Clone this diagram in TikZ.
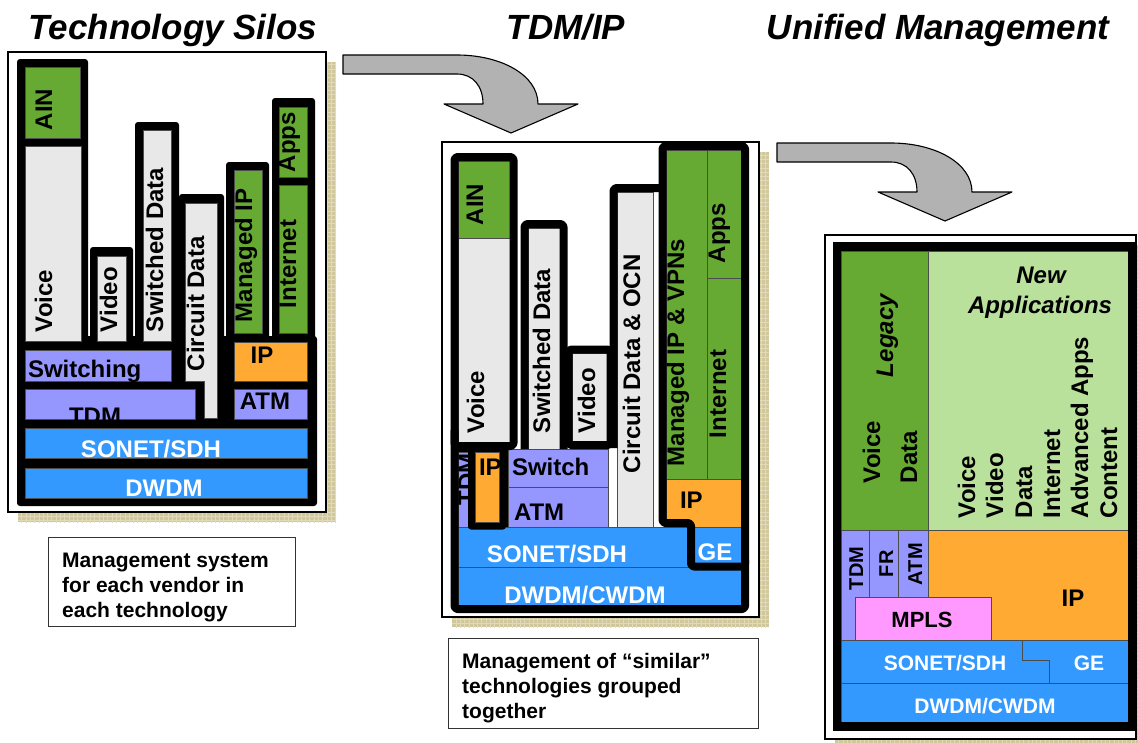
\documentclass[tikz,border=0pt]{standalone}
\usepackage{fontspec}
\setmainfont{Liberation Sans}
\definecolor{cgreen}{RGB}{102,170,51}
\definecolor{clgreen}{RGB}{185,225,155}
\definecolor{cgray}{RGB}{232,232,232}
\definecolor{cpurple}{RGB}{150,150,255}
\definecolor{corange}{RGB}{255,170,51}
\definecolor{cblue}{RGB}{51,153,255}
\definecolor{cpink}{RGB}{255,153,255}
\definecolor{carrow}{RGB}{178,178,178}
\definecolor{cshadow}{RGB}{208,200,156}
\definecolor{cgrid}{RGB}{224,218,184}

% white panel with a textured drop shadow
\newcommand{\panelframe}[4]{%
  \fill[cshadow] (#1+10,#2+10) rectangle (#3+10,#4+10);
  \begin{scope}
    \clip (#1+10,#2+10) rectangle (#3+10,#4+10);
    \draw[cgrid, line width=0.3pt, step=4.3pt] (#1,#2) grid (#3+14,#4+14);
  \end{scope}
  \filldraw[fill=white, draw=black, line width=1.2pt] (#1,#2) rectangle (#3,#4);
}

% curved block arrow, origin at the top-left corner of its shaft
\newcommand{\bendarrow}[2]{%
  \begin{scope}[shift={(#1,#2)}]
    \filldraw[fill=carrow, draw=black, line width=1.1pt, line join=round]
      (0,0) -- (114,0) .. controls (158,0) and (195,20) .. (195,49)
      -- (235,49) -- (168,78) -- (101,49) -- (140,49)
      .. controls (140,31) and (130,19) .. (114,19) -- (0,19) -- cycle;
  \end{scope}
}

\begin{document}
\begin{tikzpicture}[x=1pt,y=-1pt,
  lbl/.style={font=\fontsize{24}{28}\selectfont\bfseries, inner sep=0pt, outer sep=0pt},
  fs/.style={font=\fontsize{#1}{#1}\selectfont\bfseries},
  ital/.style={font=\fontsize{24}{28}\selectfont\bfseries\itshape},
  vlbl/.style={lbl, rotate=90, anchor=base west},
  hlbl/.style={lbl, anchor=base},
  wlbl/.style={lbl, anchor=base west},
  onblue/.style={text=white},
  cell/.style={draw=black!70, line width=0.6pt},
  heavy/.style={draw=black, line width=8pt, rounded corners=3pt, line join=round},
  title/.style={font=\fontsize{35}{40}\selectfont\bfseries\itshape, inner sep=0pt, anchor=base},
  notebox/.style={draw=black!80, line width=0.9pt, anchor=north west, inner sep=0pt},
  notetxt/.style={font=\fontsize{21}{25}\selectfont\bfseries, inner sep=0pt, anchor=base west},
]
\useasboundingbox (0,0) rectangle (1138,742);

% ---------- titles ----------
\node[title] (ttl1) at (173,39) {Technology Silos};
\node[title] (ttl2) at (566,39) {TDM/IP};
\node[title] (ttl3) at (938,39) {Unified Management};

% ================= left panel: technology silos =================
\panelframe{8}{52}{326}{512}
\begin{scope}[rounded corners=3pt]
  \fill[black] (17,59) rectangle (88,345);
  \fill[black] (90,247) rectangle (133,345);
  \fill[black] (135,122) rectangle (179,345);
  \fill[black] (179,194) rectangle (224,420);
  \fill[black] (226,162) rectangle (269,345);
  \fill[black] (272,98) rectangle (315,345);
  \fill[black] (17,336) rectangle (317,506);
\end{scope}
\filldraw[cell, fill=cgreen] (25,67) rectangle (80,138);
\filldraw[cell, fill=cgray] (25,146) rectangle (81,341);
\filldraw[cell, fill=cgray] (97,256) rectangle (126,341);
\filldraw[cell, fill=cgray] (143,130) rectangle (171,341);
\filldraw[cell, fill=cgray] (185,203) -- (217,203) -- (217,418) -- (204,418) -- (204,381) -- (185,381) -- cycle;
\filldraw[cell, fill=cgreen] (234,170) rectangle (262,333);
\filldraw[cell, fill=cgreen] (279,107) rectangle (307,177);
\filldraw[cell, fill=cgreen] (279,185) rectangle (307,333);
\filldraw[cell, fill=corange] (234,342) rectangle (307,381);
\filldraw[cell, fill=cpurple] (234,389) rectangle (307,419);
\filldraw[cell, fill=cpurple] (25,350) rectangle (171,381);
\filldraw[cell, fill=cpurple] (25,389) rectangle (195,419);
\filldraw[cell, fill=cblue] (25,428) rectangle (307,458);
\filldraw[cell, fill=cblue] (25,468) rectangle (307,498);

\node[vlbl] (l-ain) at (52,130) {AIN};
\node[vlbl] (l-voice) at (52,332) {Voice};
\node[vlbl] (l-video) at (117,332) {Video};
\node[vlbl] (l-swd) at (163,332) {Switched Data};
\node[vlbl] (l-cd) at (204,371) {Circuit Data};
\node[vlbl] (l-mip) at (252,322) {Managed IP};
\node[vlbl] (l-inet) at (296,308) {Internet};
\node[vlbl] (l-apps) at (295,172) {Apps};
\begin{scope}
  \clip (25,350) rectangle (171,381);
  \node[wlbl] (l-sw) at (28,377) {Switching};
\end{scope}
\begin{scope}
  \clip (25,389) rectangle (195,419);
  \node[hlbl] (l-tdm) at (95,424) {TDM};
\end{scope}
\node[hlbl] (l-ip) at (262,363) {IP};
\node[hlbl] (l-atm) at (265,409) {ATM};
\node[hlbl, onblue] (l-sonet) at (151,457) {SONET/SDH};
\node[hlbl, onblue] (l-dwdm) at (164,496) {DWDM};

\node[notebox, minimum width=247pt, minimum height=89pt] (note1) at (48,537) {};
\node[notetxt] (note1a) at (62,567) {Management system};
\node[notetxt] (note1b) at (62,592) {for each vendor in};
\node[notetxt] (note1c) at (62,617) {each technology};

% ================= middle panel: TDM/IP =================
\panelframe{442}{142}{759}{617}
\fill[black] (451,440) rectangle (508,527);
\filldraw[cell, fill=cgreen] (458,161) rectangle (510,238);
\filldraw[cell, fill=cgray] (458,238) rectangle (510,443);
\filldraw[cell, fill=cgray] (528,228) rectangle (560,449);
\filldraw[cell, fill=cgray] (572,353) rectangle (607,441);
\filldraw[cell, fill=cgray] (617,192) rectangle (653,527);
\filldraw[cell, fill=cpurple] (458,452) rectangle (468,527);
\filldraw[cell, fill=cpurple] (508,449) rectangle (608,487);
\filldraw[cell, fill=cpurple] (508,487) rectangle (608,527);
\filldraw[cell, fill=cgreen] (666,150) rectangle (707,479);
\filldraw[cell, fill=cgreen] (707,150) rectangle (742,278);
\filldraw[cell, fill=cgreen] (707,278) rectangle (742,479);
\filldraw[cell, fill=corange] (666,479) rectangle (742,527);
\filldraw[cell, fill=cblue] (694,527) rectangle (742,566);
\filldraw[cell, fill=cblue] (458,527) rectangle (691,567);
\filldraw[cell, fill=cblue] (458,567) rectangle (742,605);
\fill[black, rounded corners=3pt] (468,445) rectangle (506,529.5);
\filldraw[cell, fill=corange] (475,452) rectangle (499,522);

\begin{scope}
  \clip (458,452) rectangle (468,527);
  \node[vlbl] (m-tdm) at (475,505) {TDM};
\end{scope}
\begin{scope}
  \clip (475,452) rectangle (499,522);
  \node[wlbl] (m-ip1) at (479,475) {IP};
\end{scope}
\node[vlbl] (m-ain) at (483,225) {AIN};
\node[vlbl] (m-voice) at (484,433) {Voice};
\node[vlbl] (m-swd) at (550,433) {Switched Data};
\node[vlbl] (m-video) at (595,433) {Video};
\node[vlbl] (m-cd) at (640,473) {Circuit Data \& OCN};
\node[vlbl] (m-mip) at (684,466) {Managed IP \& VPNs};
\node[vlbl] (m-apps) at (725,263) {Apps};
\node[vlbl] (m-inet) at (726,438) {Internet};
\node[wlbl] (m-switch) at (512,475) {Switch};
\node[wlbl] (m-atm) at (514,520) {ATM};
\node[wlbl] (m-ip2) at (680,508) {IP};
\node[hlbl, onblue] (m-sonet) at (557,562) {SONET/SDH};
\node[hlbl, onblue] (m-ge) at (715,560) {GE};
\node[hlbl, onblue] (m-dwdm) at (585,603) {DWDM/CWDM};

\draw[heavy] (454.5,157) rectangle (513.5,446);
\draw[heavy] (524.5,449) -- (524.5,224) -- (563.5,224) -- (563.5,449);
\draw[heavy] (568.5,349.5) rectangle (610.5,445);
\draw[heavy] (613.5,448) -- (613.5,188) -- (662,188);
\draw[heavy] (662.5,146) -- (662.5,523) -- (691,523) -- (691,566.5) -- (745,566.5) -- (745,146) -- cycle;
\draw[heavy] (454.5,430) -- (454.5,609) -- (745,609) -- (745,560);

\node[notebox, minimum width=310pt, minimum height=90pt] (note2) at (448,638) {};
\node[notetxt] (note2a) at (462,668) {Management of “similar”};
\node[notetxt] (note2b) at (462,693) {technologies grouped};
\node[notetxt] (note2c) at (462,718) {together};

% ================= right panel: unified management =================
\panelframe{825}{235}{1136}{739}
\filldraw[cell, fill=cgreen] (841,251) rectangle (928,530);
\filldraw[cell, fill=clgreen] (928,251) rectangle (1128,530);
\filldraw[cell, fill=cpurple] (841,530) rectangle (869,640);
\filldraw[cell, fill=cpurple] (869,530) rectangle (898,597);
\filldraw[cell, fill=cpurple] (898,530) rectangle (928,597);
\filldraw[cell, fill=corange] (928,530) rectangle (1128,640);
\filldraw[cell, fill=cpink] (855,597) rectangle (991,640);
\filldraw[cell, fill=cblue] (841,640) -- (1022,640) -- (1022,660) -- (1049,660) -- (1049,683) -- (841,683) -- cycle;
\filldraw[cell, fill=cblue] (1022,640) -- (1128,640) -- (1128,683) -- (1049,683) -- (1049,660) -- (1022,660) -- cycle;
\filldraw[cell, fill=cblue] (841,683) rectangle (1128,722);
\draw[black, line width=8.5pt] (837,246.5) rectangle (1132,726.5);

\node[vlbl, ital] (r-legacy) at (893,377) {Legacy};
\node[vlbl] (r-voice1) at (880,483) {Voice};
\node[vlbl] (r-data1) at (917,483) {Data};
\node[hlbl, ital] (r-new) at (1041,283) {New};
\node[hlbl, ital] (r-newapps) at (1040,313) {Applications};
\node[vlbl] (r-voice2) at (975,518) {Voice};
\node[vlbl] (r-video) at (1003,518) {Video};
\node[vlbl] (r-data2) at (1032,518) {Data};
\node[vlbl] (r-inet) at (1060,518) {Internet};
\node[vlbl] (r-adv) at (1088,518) {Advanced Apps};
\node[vlbl] (r-content) at (1117,518) {Content};
\node[vlbl, fs=20] (r-tdm) at (863,590) {TDM};
\node[vlbl, fs=20] (r-fr) at (893,577) {FR};
\node[vlbl, fs=20] (r-atm) at (922,585) {ATM};
\node[hlbl, fs=22] (r-mpls) at (922,627) {MPLS};
\node[hlbl] (r-ip) at (1073,606) {IP};
\node[hlbl, fs=21, onblue] (r-sonet) at (945,670) {SONET/SDH};
\node[hlbl, fs=21, onblue] (r-ge) at (1089,670) {GE};
\node[hlbl, fs=21, onblue] (r-dwdm) at (985,713) {DWDM/CWDM};

% ---------- transition arrows ----------
\bendarrow{343}{55}
\bendarrow{777}{143}
\end{tikzpicture}
\end{document}
